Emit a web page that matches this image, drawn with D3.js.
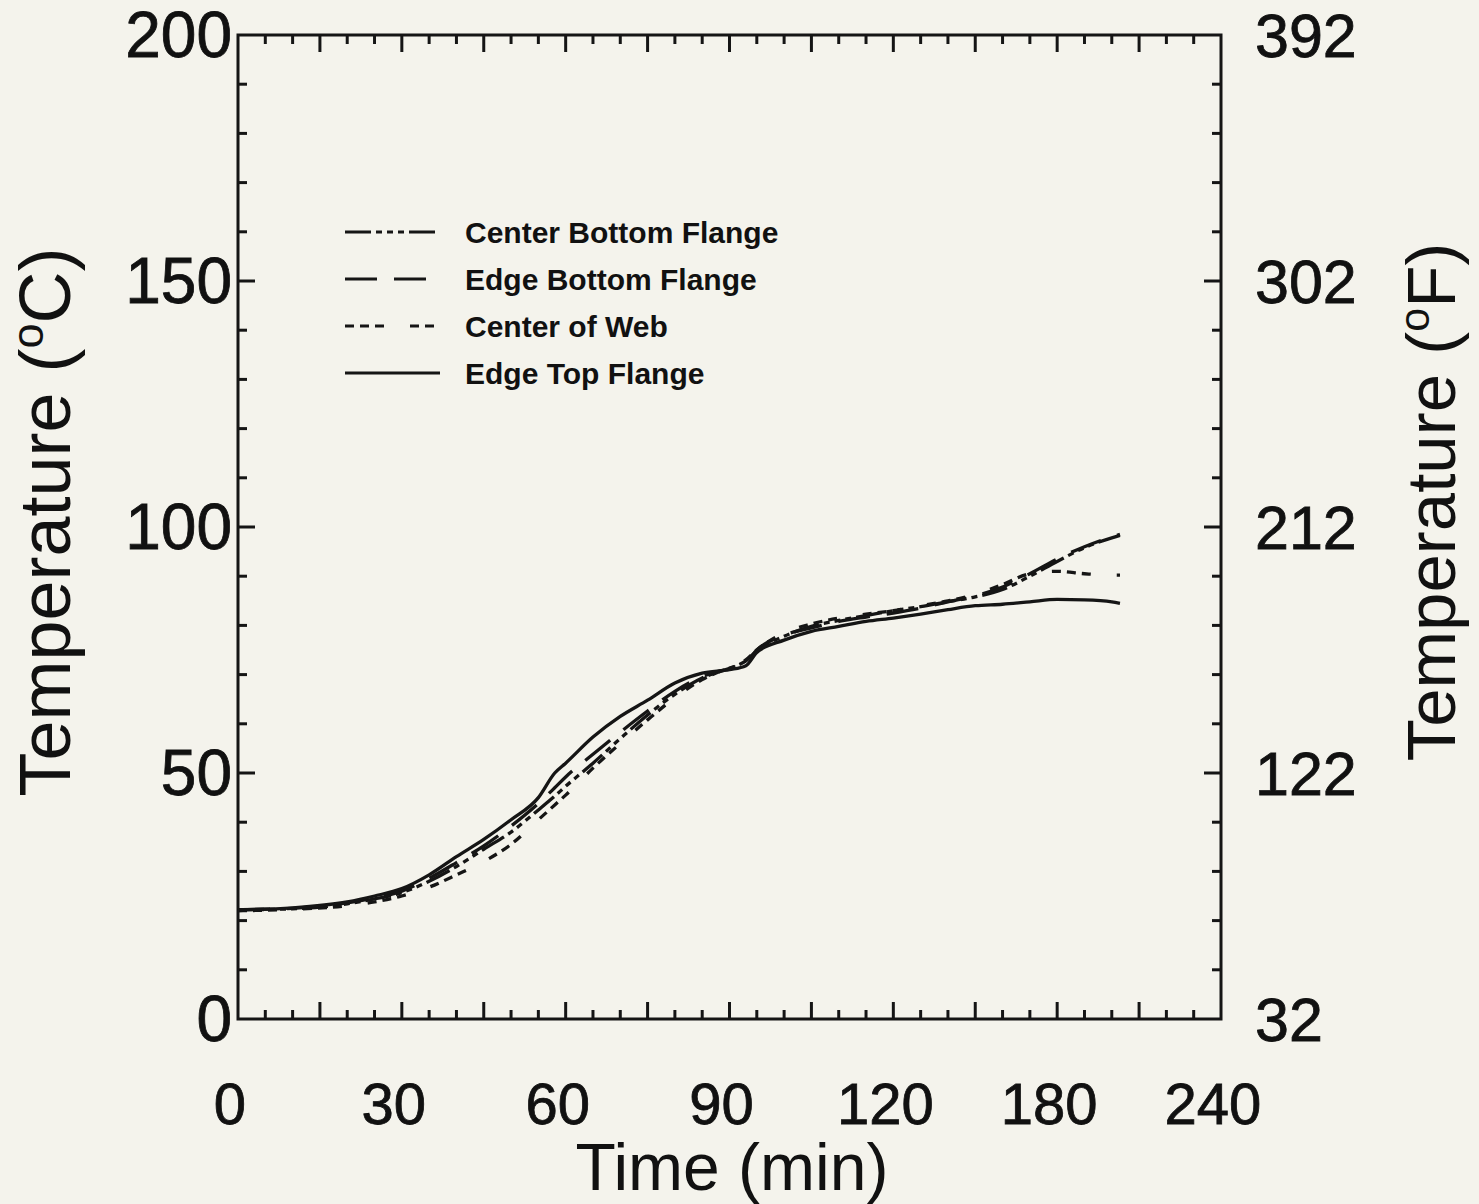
<!DOCTYPE html>
<html>
<head>
<meta charset="utf-8">
<script src="https://cdn.jsdelivr.net/npm/d3@7"></script>
<style>
  html, body { margin: 0; padding: 0; background: #f4f3ec; }
  svg { display: block; }
  text { font-family: "Liberation Sans", Arial, Helvetica, sans-serif; fill: #111; }
</style>
</head>
<body>
<svg id="chart" width="1479" height="1204"></svg>
<script>
// ---- data ----
const timeMin = [0,10,20,25,30,35,40,45,50,55,58,60,65,70,75,80,85,90,93,95,100,105,110,115,120,125,130,135,140,145,150,155,160,161.5];
const centerBottomFlange = [22.2,22.4,23.4,24.4,25.7,28,31,34.5,38,42.5,45.3,47.3,52,57,61.8,66,69.3,71.3,72.8,74.8,77.8,79.8,81,82,83,83.8,84.8,85.8,87.3,90,93,95.8,97.8,98.3];
const edgeBottomFlange   = [22.2,22.5,23.6,24.6,26,28.6,31.8,35.2,39.2,43.8,47,49.2,53.8,58.3,62.6,66.6,69.6,71.3,72.5,75,78,79.5,80.8,81.7,82.5,83.5,84.8,86,87.8,90.5,93.5,96,98,98.5];
const centerOfWeb        = [22,22.3,23,23.8,25,26.8,29.3,32,35.5,40.5,43.5,45.5,51,56,60.8,65.3,69,71.5,73,75,78.5,80.3,81.5,82.3,83,84,85,86.3,88.3,90.5,91,90.5,90.2,90.2];
const edgeTopFlange      = [22.2,22.6,23.8,25,26.5,29.3,33,36.5,40.5,45,50,52,57.3,61.5,64.8,68.3,70.3,71,71.8,74.5,77,78.8,79.8,80.8,81.5,82.3,83.2,84,84.3,84.8,85.3,85.2,84.8,84.5];
const seriesNames = ["Center Bottom Flange","Edge Bottom Flange","Center of Web","Edge Top Flange"];
const xTickValues = [0,30,60,90,120,150,180];
const xTickLabels = ["0","30","60","90","120","180","240"];
const yTickValues = [0,50,100,150,200];
const yRightLabels = ["32","122","212","302","392"];
const xTitle = "Time (min)";

// ---- layout ----
const svg = d3.select("#chart");
const L = 238, T = 35, W = 983, H = 984;
const x = d3.scaleLinear().domain([0,180]).range([L, L+W]);
const y = d3.scaleLinear().domain([0,200]).range([T+H, T]);
const ink = "#151515";

// frame
svg.append("rect").attr("x",L).attr("y",T).attr("width",W).attr("height",H)
  .attr("fill","none").attr("stroke",ink).attr("stroke-width",3);

// ticks (inward)
const xMinor = d3.range(0,181,5), xMajor = d3.range(0,181,15);
const yMinor = d3.range(0,201,10), yMajor = d3.range(0,201,50);
const tk = svg.append("g").attr("stroke",ink).attr("stroke-width",3);
function xt(v){ return xMajor.includes(v) ? 17 : 9; }
function yt(v){ return yMajor.includes(v) ? 17 : 9; }
xMinor.filter(v=>v>0&&v<180).forEach(v=>{
  tk.append("line").attr("x1",x(v)).attr("x2",x(v)).attr("y1",T+H).attr("y2",T+H-xt(v));
  tk.append("line").attr("x1",x(v)).attr("x2",x(v)).attr("y1",T).attr("y2",T+xt(v));
});
yMinor.filter(v=>v>0&&v<200).forEach(v=>{
  tk.append("line").attr("x1",L).attr("x2",L+yt(v)).attr("y1",y(v)).attr("y2",y(v));
  tk.append("line").attr("x1",L+W).attr("x2",L+W-yt(v)).attr("y1",y(v)).attr("y2",y(v));
});

// tick labels
svg.append("g").selectAll("text").data(xTickValues).join("text")
  .attr("x",d=>x(d)-8).attr("y",1124).attr("text-anchor","middle")
  .attr("font-size",58).attr("stroke","#111").attr("stroke-width",0.8).text((d,i)=>xTickLabels[i]);
svg.append("g").selectAll("text").data(yTickValues).join("text")
  .attr("x",232).attr("y",d=>y(d)+22).attr("text-anchor","end")
  .attr("font-size",64).attr("stroke","#111").attr("stroke-width",0.8).text(d=>d);
svg.append("g").selectAll("text").data(yTickValues).join("text")
  .attr("x",1255).attr("y",d=>y(d)+22).attr("text-anchor","start")
  .attr("font-size",61).attr("stroke","#111").attr("stroke-width",0.8).text((d,i)=>yRightLabels[i]);

// axis titles
svg.append("text").attr("x",732).attr("y",1190).attr("text-anchor","middle")
  .attr("font-size",66).text(xTitle);
const lt = svg.append("text").attr("transform","translate(70,522) rotate(-90)")
  .attr("text-anchor","middle").attr("font-size",72);
lt.append("tspan").text("Temperature (");
lt.append("tspan").attr("font-size",45).attr("dy",-27).text("o");
lt.append("tspan").attr("dy",27).text("C)");
const rt = svg.append("text").attr("transform","translate(1455,502) rotate(-90)")
  .attr("text-anchor","middle").attr("font-size",69);
rt.append("tspan").text("Temperature (");
rt.append("tspan").attr("font-size",43).attr("dy",-26).text("o");
rt.append("tspan").attr("dy",26).text("F)");

// series
const dashes = ["26,5,6,5,6,5,6,5", "32,17", "9,6,9,6,9,26", null];
const allSeries = [centerBottomFlange, edgeBottomFlange, centerOfWeb, edgeTopFlange];
const line = d3.line().x(d=>x(d[0])).y(d=>y(d[1])).curve(d3.curveMonotoneX);
allSeries.forEach((vals,i)=>{
  svg.append("path").datum(timeMin.map((t,j)=>[t,vals[j]]))
    .attr("d",line).attr("fill","none").attr("stroke",ink).attr("stroke-width",3.3)
    .attr("stroke-dasharray",dashes[i]);
});

// legend
const legY = [232,279,326,373];
const lg = svg.append("g");
seriesNames.forEach((n,i)=>{
  lg.append("line").attr("x1",345).attr("x2",440).attr("y1",legY[i]).attr("y2",legY[i])
    .attr("stroke",ink).attr("stroke-width",3).attr("stroke-dasharray",dashes[i]);
  lg.append("text").attr("x",465).attr("y",legY[i]+11).attr("font-size",30)
    .attr("font-weight","bold").text(n);
});
</script>
</body>
</html>
